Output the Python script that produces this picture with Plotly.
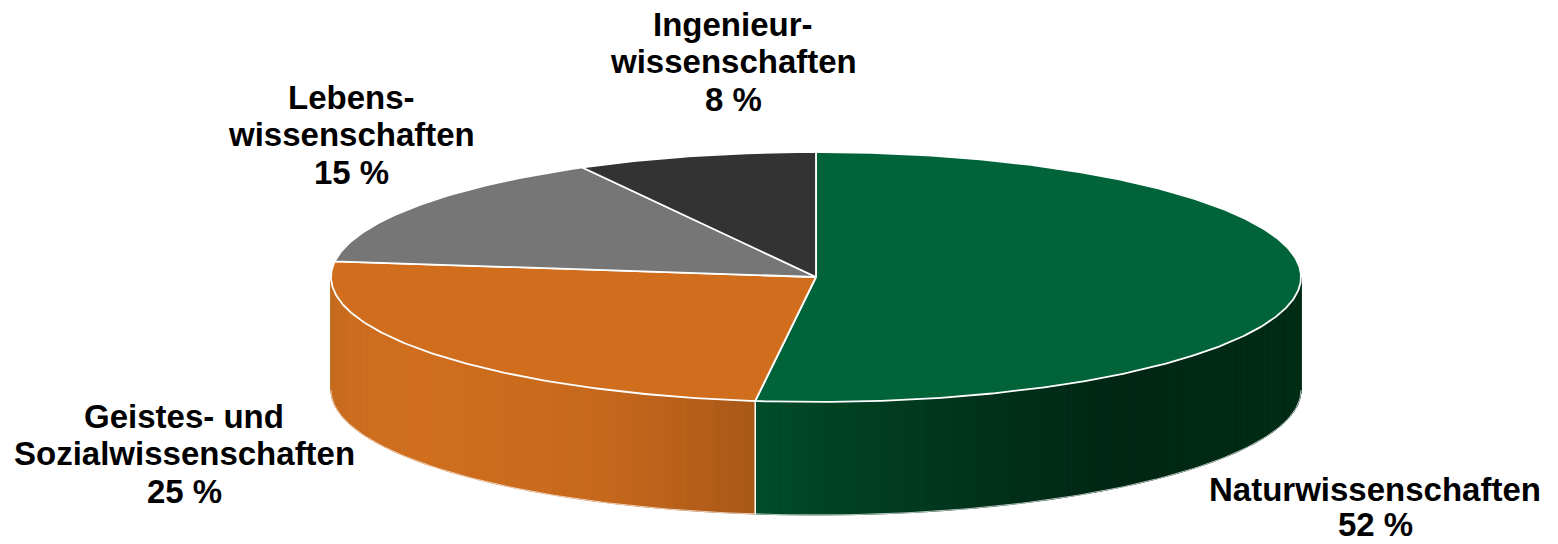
import numpy as np
import plotly.graph_objects as go

categories = ["Naturwissenschaften", "Geistes- und|Sozialwissenschaften", "Lebens-|wissenschaften", "Ingenieur-|wissenschaften"]
values = [52, 25, 15, 8]
top_colors = ["#00633A", "#D06E1E", "#767676", "#333333"]
label_x = [1375, 184, 351, 733]
label_first_y = [489, 416, 97, 24]
label_step = [35, 37.7, 37.7, 37.7]

CX, CY, RX, RY, DEPTH = 816, 277, 485, 125, 113

# wall shading stops: (x position, rgb)
wall_stops = {
    0: ([755, 830, 1000, 1120, 1301], [(0, 77, 42), (0, 66, 36), (0, 48, 26), (0, 38, 20), (0, 44, 22)]),
    1: ([331, 350, 420, 600, 700, 755], [(196, 106, 30), (204, 108, 30), (208, 110, 30), (198, 104, 28), (180, 94, 26), (168, 88, 24)]),
}


def pt(deg):
    r = np.radians(deg)
    return CX + RX * np.sin(r), CY - RY * np.cos(r)


def wall_color(slice_idx, x):
    xs, cs = wall_stops[slice_idx]
    c = [np.interp(x, xs, [k[i] for k in cs]) for i in range(3)]
    return "rgb(%d,%d,%d)" % tuple(int(round(v)) for v in c)


fig = go.Figure()
edges = np.cumsum([0] + values) * 3.6

# side walls: only the front half (90..270 degrees) is visible
for i in range(len(values)):
    a0, a1 = max(edges[i], 90), min(edges[i + 1], 270)
    if a1 <= a0:
        continue
    angles = np.linspace(a0, a1, int((a1 - a0) * 1.2) + 2)
    for s, e in zip(angles[:-1], angles[1:]):
        seg = np.linspace(s, e, 4)
        px, py = pt(seg)
        xs = list(px) + list(px[::-1]) + [px[0]]
        ys = list(py) + list((py + DEPTH)[::-1]) + [py[0]]
        col = wall_color(i, px.mean())
        fig.add_trace(go.Scatter(x=xs, y=ys, mode="lines", fill="toself", fillcolor=col,
                                 line=dict(color=col, width=1), hoverinfo="skip", showlegend=False))

# white lines on the walls: slice seam and bottom rim
for e in edges:
    if 90 < e < 270:
        px, py = pt(e)
        fig.add_trace(go.Scatter(x=[px, px], y=[py, py + DEPTH], mode="lines",
                                 line=dict(color="white", width=1.5), hoverinfo="skip", showlegend=False))
rim_x, rim_y = pt(np.linspace(90, 270, 200))
fig.add_trace(go.Scatter(x=rim_x, y=rim_y + DEPTH, mode="lines", line=dict(color="rgba(255,255,255,0.7)", width=1),
                         hoverinfo="skip", showlegend=False))

# top face
for i, cat in enumerate(categories):
    a = np.linspace(edges[i], edges[i + 1], int(values[i] * 6) + 2)
    px, py = pt(a)
    fig.add_trace(go.Scatter(x=[CX] + list(px) + [CX], y=[CY] + list(py) + [CY], mode="lines", fill="toself",
                             fillcolor=top_colors[i], line=dict(color="white", width=1.8),
                             name=cat.replace("|", " "), showlegend=False,
                             hovertemplate="%{fullData.name}: " + f"{values[i]} %<extra></extra>"))

for cat, v, x, y0, step in zip(categories, values, label_x, label_first_y, label_step):
    lines = cat.split("|") + [f"{v} %"]
    for n, line in enumerate(lines):
        fig.add_annotation(x=x, y=y0 + n * step, text=line, showarrow=False, xanchor="center", yanchor="middle",
                           align="center", font=dict(family="Liberation Sans", size=33, color="black", weight="bold"))

fig.update_xaxes(range=[0, 1558], visible=False, fixedrange=True)
fig.update_yaxes(range=[544, 0], visible=False, fixedrange=True)
fig.update_layout(width=1558, height=544, margin=dict(l=0, r=0, t=0, b=0), paper_bgcolor="white",
                  plot_bgcolor="white", showlegend=False)
fig.write_html("out.html", config=dict(displayModeBar=False),
               post_script="document.body.style.margin='0';")
